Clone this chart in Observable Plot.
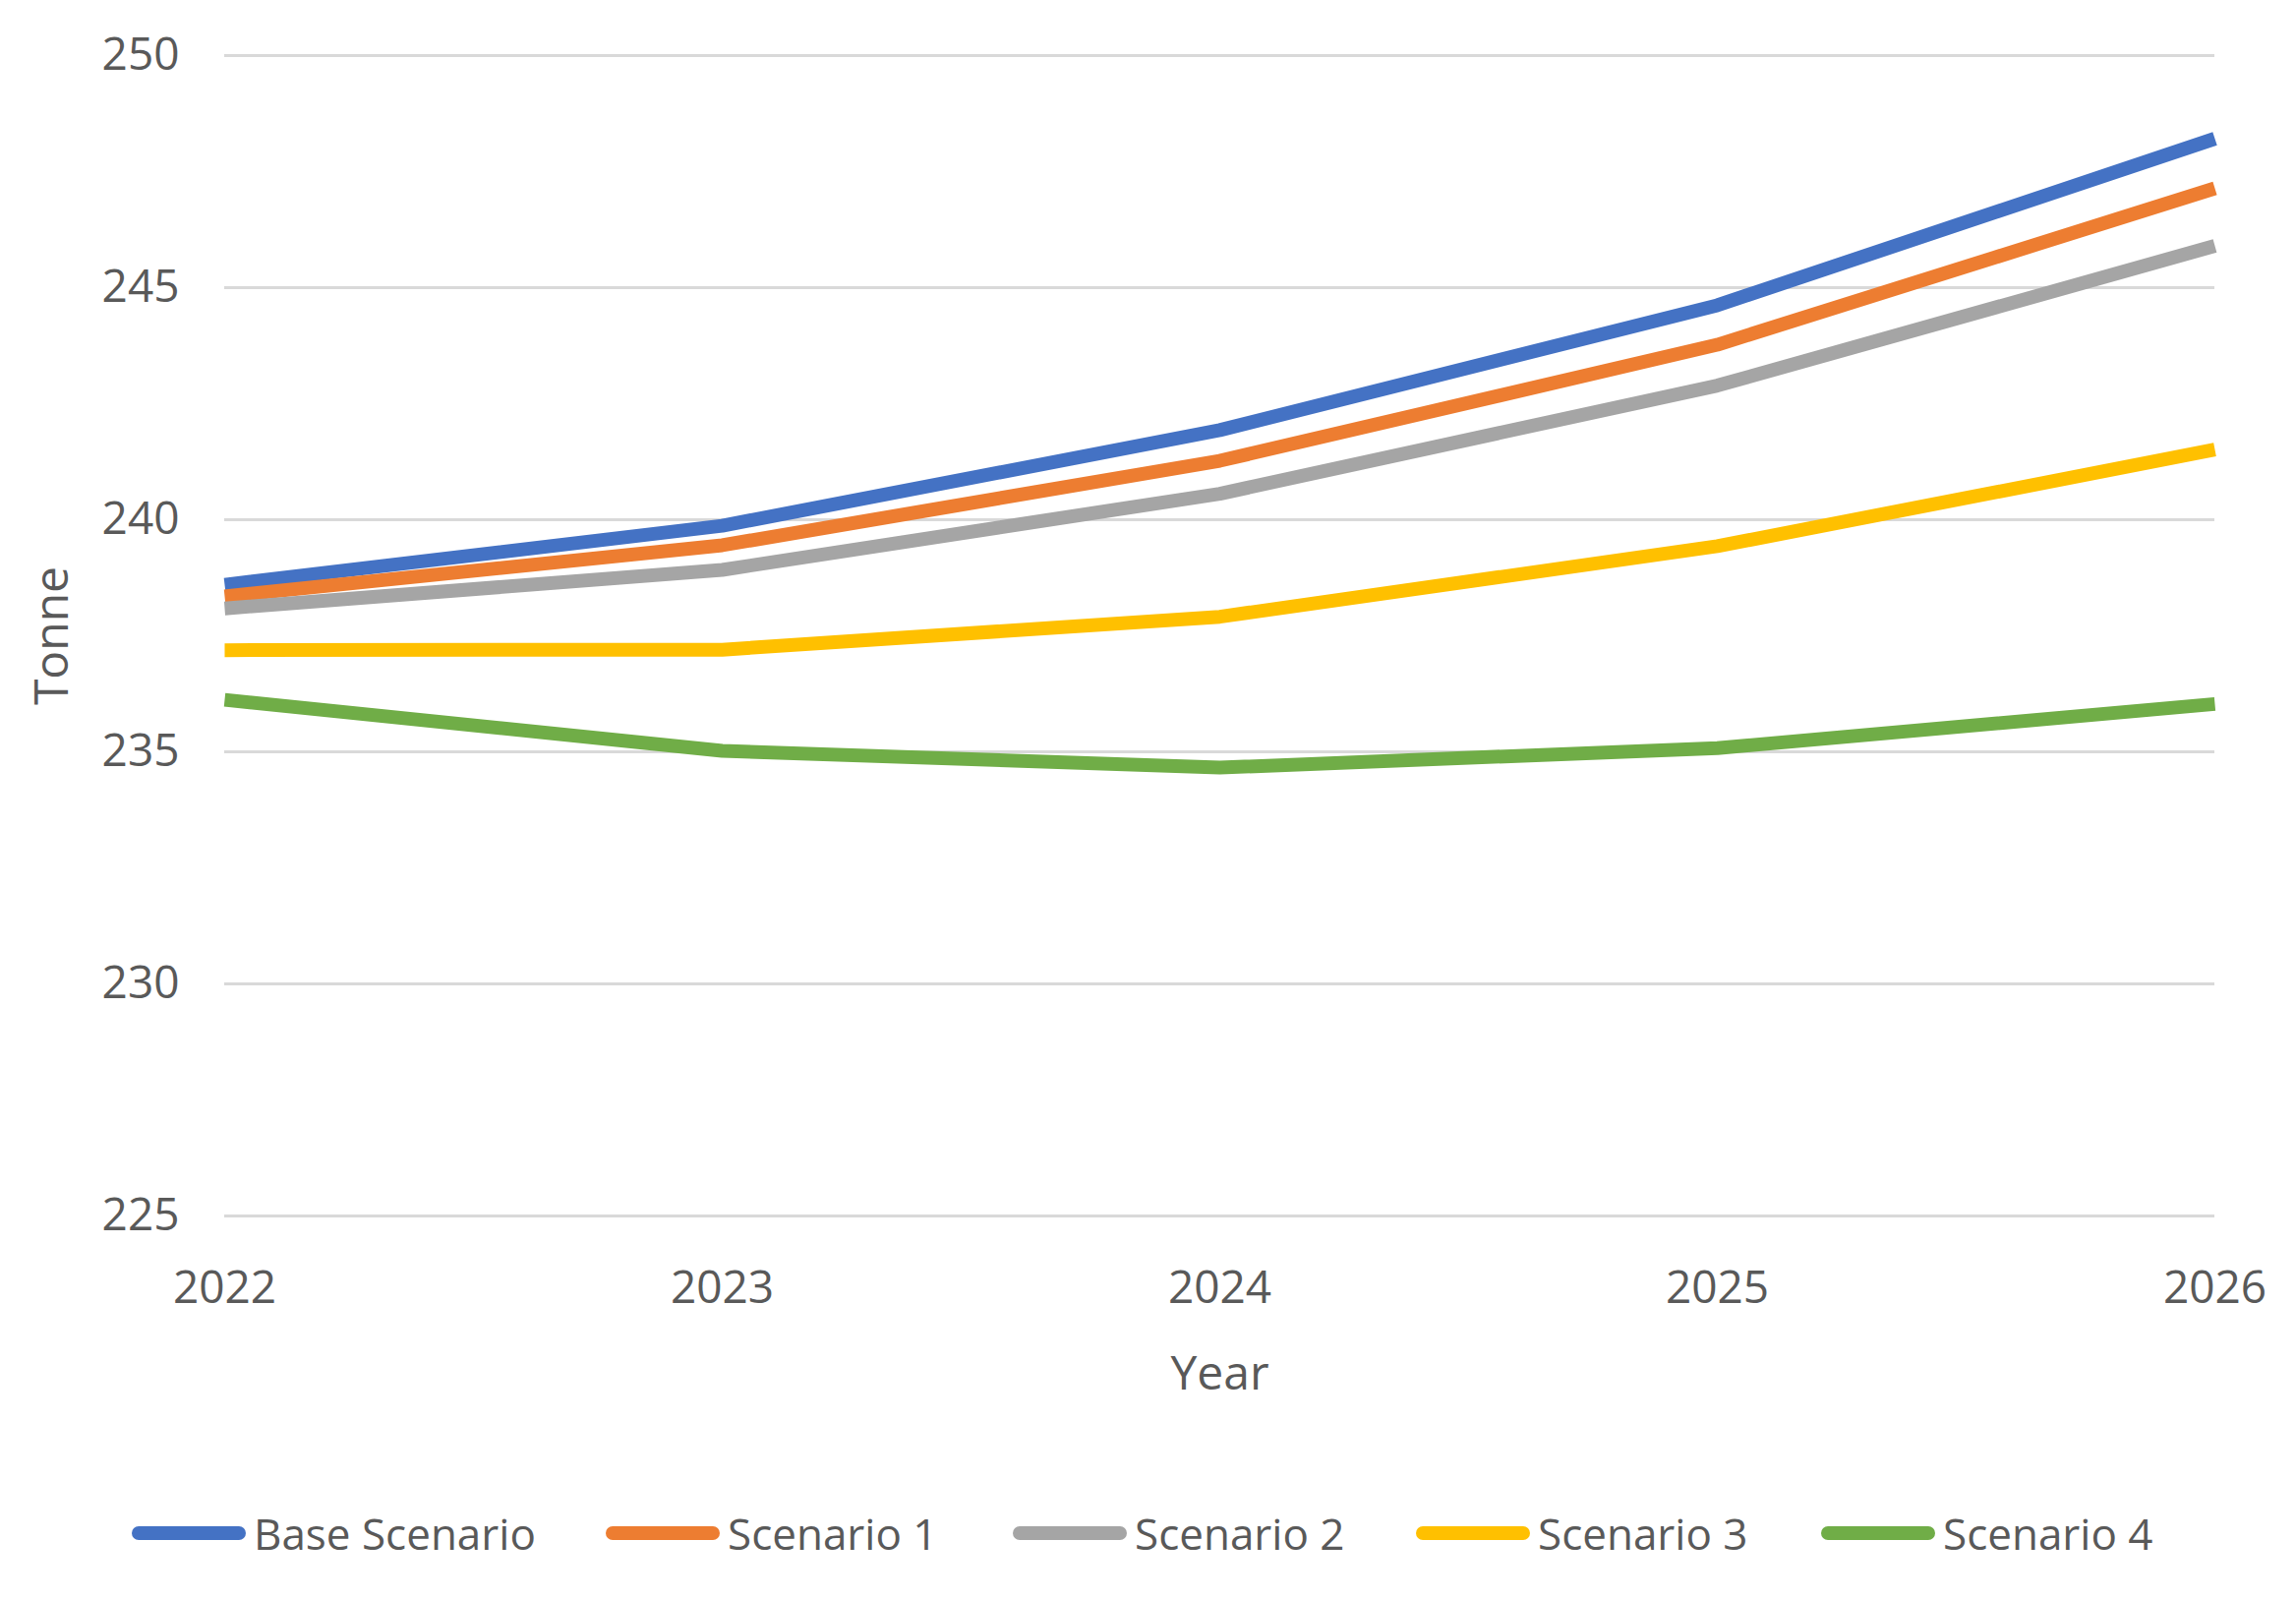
<!DOCTYPE html>
<html>
<head>
<meta charset="utf-8">
<script src="https://cdn.jsdelivr.net/npm/d3@7"></script>
<script src="https://cdn.jsdelivr.net/npm/@observablehq/plot@0.6"></script>
<style>
  html, body { margin: 0; padding: 0; background: #ffffff; }
  body { width: 2335px; height: 1627px; overflow: hidden; font-family: "Open Sans", sans-serif; color: #595959; }
  #legend { position: relative; height: 167px; }
  .item { position: absolute; top: 69px; height: 60px; display: flex; align-items: center; font-size: 44px; color: #595959; white-space: nowrap; }
  .sw { width: 116px; height: 14px; border-radius: 7px; margin-right: 8px; }
</style>
</head>
<body>
<div id="chart"></div>
<div id="legend"></div>
<script>
const years = [2022, 2023, 2024, 2025, 2026];
const seriesNames = ["Base Scenario", "Scenario 1", "Scenario 2", "Scenario 3", "Scenario 4"];
const baseScenario = [238.60, 239.87, 241.93, 244.62, 248.21];
const scenario1 = [238.35, 239.45, 241.27, 243.77, 247.14];
const scenario2 = [238.09, 238.92, 240.56, 242.89, 245.90];
const scenario3 = [237.19, 237.20, 237.91, 239.43, 241.51];
const scenario4 = [236.12, 235.02, 234.66, 235.08, 236.03];
const yTicks = [225, 230, 235, 240, 245, 250];
const colors = ["#4472C4", "#ED7D31", "#A5A5A5", "#FFC000", "#70AD47"];
const legendX = [134, 616, 1030, 1440, 1852];

const allValues = [baseScenario, scenario1, scenario2, scenario3, scenario4];
const data = [];
seriesNames.forEach((name, i) => {
  years.forEach((yr, j) => data.push({series: name, year: yr, value: allValues[i][j]}));
});

const chart = Plot.plot({
  width: 2335,
  height: 1460,
  marginLeft: 228,
  marginRight: 83,
  marginTop: 56,
  marginBottom: 224,
  style: {fontFamily: "Open Sans, sans-serif", color: "#595959", background: "#ffffff"},
  x: {domain: [2022, 2026]},
  y: {domain: [225, 250]},
  color: {domain: seriesNames, range: colors},
  marks: [
    Plot.gridY(yTicks, {stroke: "#D9D9D9", strokeOpacity: 1, strokeWidth: 3}),
    Plot.axisY(yTicks, {tickSize: 0, tickPadding: 46, fontSize: 46, label: null, fill: "#595959"}),
    Plot.axisX(years, {tickSize: 0, tickPadding: 56, fontSize: 46, tickFormat: "d", label: null, fill: "#595959"}),
    Plot.line(data, {x: "year", y: "value", z: "series", stroke: "series", strokeWidth: 14, curve: "linear", strokeLinecap: "butt", strokeLinejoin: "round"}),
    Plot.text(["Tonne"], {frameAnchor: "left", dx: -175, rotate: -90, fontSize: 48, fill: "#595959", textAnchor: "middle", lineAnchor: "middle"}),
    Plot.text(["Year"], {frameAnchor: "bottom", dy: 161, fontSize: 48, fill: "#595959", textAnchor: "middle", lineAnchor: "middle"})
  ]
});
document.getElementById("chart").appendChild(chart);

const legend = document.getElementById("legend");
seriesNames.forEach((name, i) => {
  const item = document.createElement("div");
  item.className = "item";
  item.style.left = legendX[i] + "px";
  const sw = document.createElement("div");
  sw.className = "sw";
  sw.style.background = colors[i];
  const label = document.createElement("span");
  label.textContent = name;
  item.appendChild(sw);
  item.appendChild(label);
  legend.appendChild(item);
});
</script>
</body>
</html>
